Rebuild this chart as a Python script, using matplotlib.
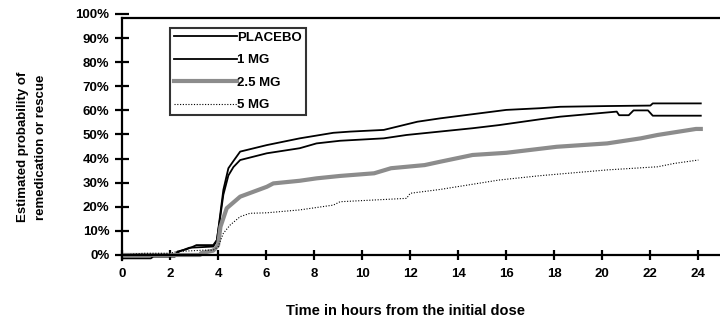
import matplotlib
matplotlib.use("Agg")
import matplotlib.pyplot as plt
from matplotlib.ticker import FuncFormatter

plt.rcParams['font.family'] = ['Liberation Sans', 'DejaVu Sans']
plt.rcParams['font.weight'] = 'bold'

# ---- data (hours, percent) ----
t_placebo = [0, 2.2, 2.4, 2.8, 3.2, 3.8, 3.95, 4.08, 4.22, 4.43, 4.64, 4.92, 6.03, 7.4, 8.8, 9.5,
             10.9, 12.3, 13.25, 16.0, 17.4, 18.25, 20.2, 22.0, 22.1, 24.1]
p_placebo = [0, 0, 1.5, 3.0, 3.2, 3.5, 6.0, 16.0, 27.0, 36.0, 39.0, 42.9, 45.6, 48.4, 50.7, 51.2,
             51.9, 55.3, 56.7, 60.2, 60.9, 61.5, 61.8, 62.0, 62.9, 62.9]

t_1mg = [0, 1.2, 1.3, 2.2, 2.3, 2.7, 2.97, 3.1, 3.8, 3.95, 4.08, 4.22, 4.43, 4.64, 4.92, 6.03, 7.4,
         8.1, 9.08, 10.9, 11.85, 14.6, 15.7, 17.4, 18.25, 20.6, 20.7, 21.1, 21.3, 21.9, 22.1, 24.1]
p_1mg = [-1.4, -1.4, -0.7, -0.7, 1.4, 2.4, 3.5, 4.1, 4.1, 6.2, 15.0, 25.0, 33.0, 36.5, 39.4, 42.2, 44.3,
         46.3, 47.4, 48.4, 49.8, 52.6, 53.9, 56.3, 57.4, 59.5, 58.0, 58.0, 60.0, 60.0, 57.8, 57.8]

t_25mg = [0, 3.25, 3.3, 3.8, 4.0, 4.1, 4.36, 4.92, 6.03, 6.3, 7.4, 8.1, 9.08, 10.5, 11.2, 12.6,
          13.25, 14.6, 16.0, 18.1, 20.2, 21.6, 22.3, 23.9, 24.1]
p_25mg = [0, 0, 0.8, 1.8, 4.0, 11.7, 19.4, 24.2, 28.3, 29.7, 30.8, 31.8, 32.8, 33.9, 36.0, 37.3,
          38.7, 41.5, 42.4, 44.9, 46.3, 48.4, 49.8, 52.3, 52.3]

t_5mg = [0, 0.9, 2.0, 2.28, 3.4, 3.8, 4.0, 4.22, 4.5, 4.92, 5.33, 6.03, 7.4, 8.8, 9.08, 11.85, 12.0,
         13.25, 15.7, 17.4, 20.2, 22.3, 23.0, 24.0]
p_5mg = [0, 0.7, 0.7, 1.4, 2.0, 2.0, 3.4, 9.0, 12.4, 15.9, 17.3, 17.5, 18.7, 20.7, 22.1, 23.5, 25.6,
         27.2, 31.1, 32.9, 35.3, 36.6, 38.0, 39.4]

labels = ["PLACEBO", "1 MG", "2.5 MG", "5 MG"]
x_ticks = list(range(0, 25, 2))
y_ticks = list(range(0, 101, 10))

fig = plt.figure(figsize=(7.2, 3.24), dpi=100)
ax = fig.add_axes([122/720, 64.2/324, 598/720, 245.8/324])

ax.plot(t_placebo, p_placebo, color='black', lw=1.3, label=labels[0])
ax.plot(t_1mg, p_1mg, color='black', lw=1.3, label=labels[1])
ax.plot(t_25mg, p_25mg, color='#8c8c8c', lw=3.0, label=labels[2])
ax.plot(t_5mg, p_5mg, color='black', lw=0.8, linestyle=(0, (1, 1.5)), label=labels[3])

ax.set_xlim(0, 24.9)
ax.set_ylim(-2, 100)
ax.set_xticks(x_ticks)
ax.set_yticks(y_ticks)
ax.yaxis.set_major_formatter(FuncFormatter(lambda v, p: f"{int(v)}%"))

ax.spines['right'].set_visible(False)
ax.spines['top'].set_position(('data', 98.5))
ax.spines['bottom'].set_position(('data', 0))
ax.spines['left'].set_bounds(-2, 98.5)
for s in ['top', 'bottom', 'left']:
    ax.spines[s].set_linewidth(1.6)

ax.tick_params(axis='y', direction='inout', length=10, width=1.6, pad=4, labelsize=9.5)
ax.tick_params(axis='x', direction='inout', length=7, width=1.6, pad=6, labelsize=9.5)
for lab in ax.get_xticklabels() + ax.get_yticklabels():
    lab.set_fontweight('bold')

leg = ax.legend(loc='upper left', bbox_to_anchor=(0.080, 0.945), borderaxespad=0,
                handlelength=4.8, handletextpad=0.0, labelspacing=0.78, borderpad=0.3,
                fancybox=False, frameon=True, prop={'weight': 'bold', 'size': 9.5})
leg.get_frame().set_edgecolor('black')
leg.get_frame().set_linewidth(1.5)

fig.text(405/720, 1 - 311/324, "Time in hours from the initial dose", ha='center', va='center',
         fontsize=10.5, fontweight='bold')
fig.text(32/720, 1 - 147/324, "Estimated probability of\nremedication or rescue", ha='center',
         va='center', rotation=90, fontsize=9.5, fontweight='bold', multialignment='center',
         linespacing=1.6)

fig.savefig("out.png", dpi=100)
